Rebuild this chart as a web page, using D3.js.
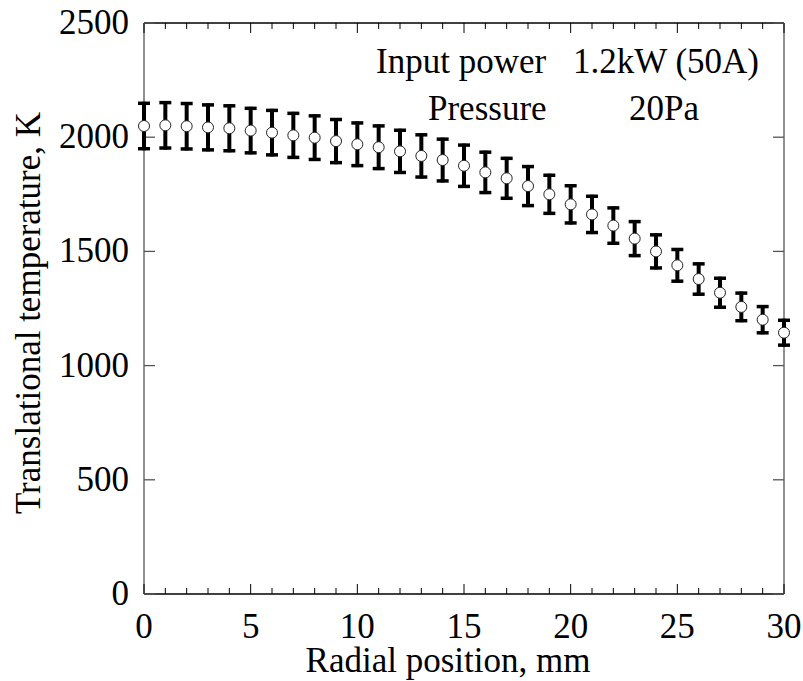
<!DOCTYPE html>
<html lang="en">
<head>
<meta charset="utf-8">
<title>Translational temperature</title>
<script src="https://cdn.jsdelivr.net/npm/d3@7/dist/d3.min.js"></script>
<style>
  body { margin: 0; background: #fff; }
  text { font-family: "Liberation Serif", "Times New Roman", Times, serif; fill: #000; }
</style>
</head>
<body>
<div id="chart"></div>
<script>
(function(d3) {
  'use strict';

  // radial position (mm)
  var positions = [0, 1, 2, 3, 4, 5, 6, 7, 8, 9, 10, 11, 12, 13, 14, 15,
                   16, 17, 18, 19, 20, 21, 22, 23, 24, 25, 26, 27, 28, 29, 30];
  // translational temperature (K)
  var temps = [2049, 2052, 2048, 2043, 2039, 2029, 2020, 2008, 1998, 1983, 1969,
               1956, 1938, 1918, 1900, 1875, 1846, 1820, 1786, 1750, 1706,
               1662, 1613, 1556, 1500, 1439, 1379, 1319, 1257, 1201, 1144];
  // error (+/- K)
  var errors = [106, 106, 106, 105, 105, 104, 104, 103, 102, 101, 100,
                100, 99, 99, 98, 97, 95, 94, 92, 90, 88,
                86, 84, 81, 79, 76, 73, 70, 67, 64, 61];
  var xTicks = [0, 5, 10, 15, 20, 25, 30];
  var yTicks = [0, 500, 1000, 1500, 2000, 2500];

  var width = 803, height = 681;
  var margin = { left: 144, right: 19, top: 23, bottom: 87 };
  var font = '"Liberation Serif", "Times New Roman", Times, serif';
  var fs = 35;

  var svg = d3.select('#chart').append('svg')
    .attr('width', width)
    .attr('height', height)
    .attr('font-family', font);

  var x = d3.scaleLinear().domain([0, 30]).range([margin.left, width - margin.right]);
  var y = d3.scaleLinear().domain([0, 2500]).range([height - margin.bottom, margin.top]);

  var x0 = x.range()[0], x1 = x.range()[1];
  var y0 = y.range()[0], y1 = y.range()[1];

  // frame
  svg.append('line').attr('x1', x0).attr('x2', x1).attr('y1', y0).attr('y2', y0)
    .attr('stroke', '#000').attr('stroke-width', 1.5);
  svg.append('line').attr('x1', x0).attr('x2', x1).attr('y1', y1).attr('y2', y1)
    .attr('stroke', '#000').attr('stroke-width', 1.5);
  svg.append('line').attr('x1', x0).attr('x2', x0).attr('y1', y0).attr('y2', y1)
    .attr('stroke', '#555').attr('stroke-width', 1.3);
  svg.append('line').attr('x1', x1).attr('x2', x1).attr('y1', y0).attr('y2', y1)
    .attr('stroke', '#555').attr('stroke-width', 1.3);

  // x ticks (major every 5, minor every 1) on bottom and top
  var minorX = d3.range(0, 31, 1);
  svg.selectAll('.xtick').data(minorX).enter().append('line')
    .attr('x1', function(d) { return x(d); })
    .attr('x2', function(d) { return x(d); })
    .attr('y1', y0)
    .attr('y2', function(d) { return y0 - (d % 5 === 0 ? 10 : 6); })
    .attr('stroke', '#000').attr('stroke-width', 1);
  svg.selectAll('.xtickt').data(minorX).enter().append('line')
    .attr('x1', function(d) { return x(d); })
    .attr('x2', function(d) { return x(d); })
    .attr('y1', y1)
    .attr('y2', function(d) { return y1 + (d % 5 === 0 ? 10 : 6); })
    .attr('stroke', '#000').attr('stroke-width', 1);

  // y ticks on left and right
  svg.selectAll('.ytick').data(yTicks).enter().append('line')
    .attr('x1', x0).attr('x2', x0 + 11)
    .attr('y1', function(d) { return y(d); })
    .attr('y2', function(d) { return y(d); })
    .attr('stroke', '#555').attr('stroke-width', 1.3);
  svg.selectAll('.ytickr').data(yTicks).enter().append('line')
    .attr('x1', x1).attr('x2', x1 - 11)
    .attr('y1', function(d) { return y(d); })
    .attr('y2', function(d) { return y(d); })
    .attr('stroke', '#555').attr('stroke-width', 1.3);

  // tick labels
  svg.selectAll('.xlab').data(xTicks).enter().append('text')
    .attr('x', function(d) { return x(d); })
    .attr('y', y0 + 44)
    .attr('text-anchor', 'middle')
    .attr('font-size', fs)
    .text(function(d) { return d; });
  svg.selectAll('.ylab').data(yTicks).enter().append('text')
    .attr('x', x0 - 15)
    .attr('y', function(d) { return y(d) + 11; })
    .attr('text-anchor', 'end')
    .attr('font-size', fs)
    .text(function(d) { return d; });

  // axis titles
  svg.append('text')
    .attr('x', 448)
    .attr('y', 672)
    .attr('text-anchor', 'middle')
    .attr('font-size', fs)
    .text('Radial position, mm');
  svg.append('text')
    .attr('transform', 'translate(40,313) rotate(-90)')
    .attr('text-anchor', 'middle')
    .attr('font-size', fs)
    .text('Translational temperature, K');

  // annotation
  svg.append('text').attr('x', 376).attr('y', 73).attr('font-size', fs)
    .text('Input power');
  svg.append('text').attr('x', 573).attr('y', 73).attr('font-size', fs)
    .text('1.2kW (50A)');
  svg.append('text').attr('x', 428).attr('y', 120).attr('font-size', fs)
    .text('Pressure');
  svg.append('text').attr('x', 629).attr('y', 120).attr('font-size', fs)
    .text('20Pa');

  var data = positions.map(function(p, i) {
    return { x: p, t: temps[i], e: errors[i] };
  });

  // error bars
  var bars = svg.append('g').selectAll('g').data(data).enter().append('g');
  bars.append('line')
    .attr('x1', function(d) { return x(d.x); })
    .attr('x2', function(d) { return x(d.x); })
    .attr('y1', function(d) { return y(d.t + d.e); })
    .attr('y2', function(d) { return y(d.t - d.e); })
    .attr('stroke', '#000').attr('stroke-width', 4);
  bars.append('line')
    .attr('x1', function(d) { return x(d.x) - 6; })
    .attr('x2', function(d) { return x(d.x) + 6; })
    .attr('y1', function(d) { return y(d.t + d.e) + 1.5; })
    .attr('y2', function(d) { return y(d.t + d.e) + 1.5; })
    .attr('stroke', '#000').attr('stroke-width', 3.5);
  bars.append('line')
    .attr('x1', function(d) { return x(d.x) - 6; })
    .attr('x2', function(d) { return x(d.x) + 6; })
    .attr('y1', function(d) { return y(d.t - d.e) - 1.5; })
    .attr('y2', function(d) { return y(d.t - d.e) - 1.5; })
    .attr('stroke', '#000').attr('stroke-width', 3.5);

  // markers
  svg.append('g').selectAll('circle').data(data).enter().append('circle')
    .attr('cx', function(d) { return x(d.x); })
    .attr('cy', function(d) { return y(d.t); })
    .attr('r', 5.5)
    .attr('fill', '#fff')
    .attr('stroke', '#222')
    .attr('stroke-width', 1);

})(window.d3);
</script>
</body>
</html>
